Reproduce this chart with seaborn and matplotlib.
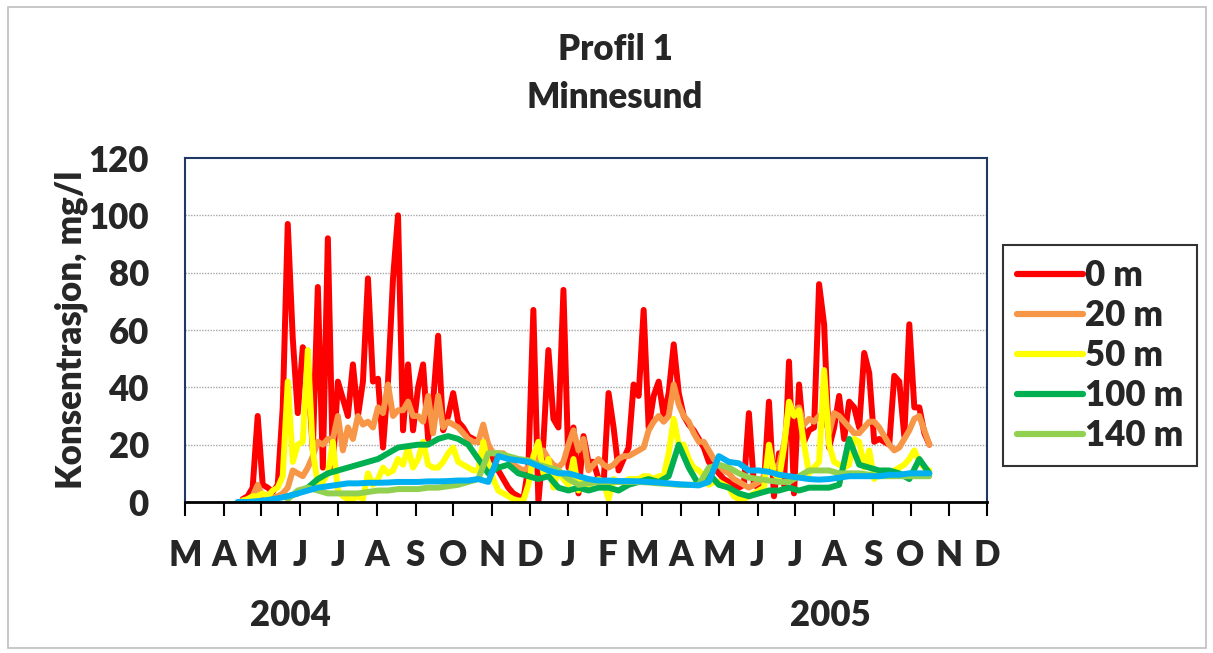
import numpy as np
import pandas as pd
import matplotlib
matplotlib.use("Agg")
import matplotlib.pyplot as plt
from matplotlib.patches import Rectangle
from matplotlib.lines import Line2D
import seaborn as sns

nan = np.nan

# ---------------- data ----------------
dates_fast = pd.date_range("2004-04-08", periods=140, freq="4D")   # 0 m, 20 m, 50 m
dates_slow = pd.date_range("2004-04-12", periods=70, freq="8D")    # 100 m, 140 m, bottom

red_0m = [nan, nan, 1, 2, 5, 30, 6, 5, 3.5, 6,
          33, 97, 57, 31, 54, 46, 18, 75, 12, 92,
          12, 42, 36, 30, 48, 30, 42, 78, 42, 43,
          19, 42, 78, 100, 25, 48, 25, 40, 48, 22,
          35, 58, 25, 30, 38, 28, 26, 23, 22, 21,
          21, 20, 15, 11, 8, 5, 3, 2, 1, 12,
          67, 0, 21, 53, 29, 26, 74, 12, 26, 3,
          23, 14, 14, 8, 6, 38, 26, 11, 15, 19,
          41, 37, 67, 26, 37, 42, 30, 38, 55, 38,
          30, 27, 25, 22, 19, 14, 12, 10, 8, 7,
          6, 5, 6, 31, 6, 5, 6, 35, 2, 17,
          6, 49, 3, 41, 21, 25, 26, 76, 62, 19,
          26, 37, 22, 35, 33, 26, 52, 45, 21, 22,
          21, 20, 44, 42, 23, 62, 33, 33, 24, 20]

orange_20m = [nan, nan, 0.5, 1, 2, 6, 2, 1.5, 1.5, 2,
              3, 5, 11, 10, 9, 12, 16, 21, 20, 22,
              22, 30, 18, 26, 22, 30, 27, 28, 26, 33,
              31, 41, 30, 32, 32, 35, 30, 30, 28, 37,
              24, 37, 26, 28, 27, 26, 24, 22, 21, 21,
              27, 20, 17, 17, 17, 15, 13, 12, 11, 12,
              14, 16, 18, 15, 13, 12, 14, 20, 25, 18,
              22, 11, 13, 15, 13, 12, 13, 15, 16, 16,
              17, 18, 19, 25, 28, 30, 28, 30, 41, 34,
              30, 28, 24, 21, 21, 18, 15, 13, 11, 10,
              8, 7, 6, 5, 6, 7, 9, 12, 12, 13,
              20, 33, 32, 33, 27, 29, 28, 30, 30, 24,
              31, 30, 28, 26, 24, 24, 26, 28, 28, 26,
              23, 20, 18, 19, 22, 25, 29, 30, 25, 20]

yellow_50m = [nan, nan, 0.5, 1, 2, 2, 3, 2, 4, 5,
              9, 42, 14, 20, 21, 53, 18, 6, 7, 10,
              21, 4, 2, 1, 1, 2, 1, 10, 6, 8,
              12, 10, 11, 15, 13, 19, 12, 15, 21, 13,
              12, 12, 14, 17, 19, 14, 13, 12, 11, 11,
              21, 13, 8, 4, 3, 2, 1, 0.5, 0.5, 6,
              16, 21, 10, 15, 5, 11, 8, 6, 15, 4,
              8, 6, 7, 8, 7, 1, 8, 7, 7, 8,
              8, 8, 9, 9, 8, 9, 9, 17, 29, 20,
              20, 15, 12, 11, 9, 6, 7, 7, 6, 5,
              2, 1, 1, 2, 3, 4, 5, 20, 10, 8,
              19, 35, 30, 32, 20, 10, 12, 14, 46, 20,
              14, 13, 12, 13, 22, 21, 12, 18, 8, 10,
              11, 10, 11, 12, 13, 15, 18, 14, 12, 11]

green_100m = [nan, nan, nan, nan, nan, 2, 3, 5, 8, 10,
              11, 12, 13, 14, 15, 17, 19, 19.5, 20, 20,
              22, 23, 22, 20, 15, 10, 12, 13, 10, 9,
              8, 9, 5, 4, 5, 4, 5, 5, 4, 6,
              7, 8, 7, 9, 20, 12, 6, 10, 6, 5,
              3, 2, 3, 4, 4, 5, 4, 5, 5, 5,
              6, 22, 13, 12, 11, 11, 10, 8, 15, 10]

lgreen_140m = [nan, nan, nan, nan, nan, 1, 4, 5, 4, 3,
               3, 3, 3, 3.5, 4, 4, 4.5, 4.5, 4.5, 5,
               5, 5.5, 6, 7, 8, 17, 17, 16, 15, 14.5,
               13, 12, 11, 8, 6, 6.5, 7, 7, 7, 7,
               7, 6.8, 6.5, 6.3, 6, 6, 6, 12, 13, 12,
               10, 8.5, 8, 7.5, 7, 7, 9, 11, 11, 11,
               10, 10, 10, 9.5, 9, 9, 9, 9, 9, 9]

blue_bottom = [0, 0, 0.3, 0.7, 1.3, 2, 3, 4, 5, 5.5,
               6, 6.5, 6.5, 6.7, 6.7, 6.8, 7, 7, 7, 7.2,
               7.2, 7.3, 7.5, 7.5, 8, 7, 16, 15, 14.5, 14,
               12.5, 11, 10, 10, 9, 8, 7.5, 7.5, 7.3, 7.3,
               7.2, 7, 6.8, 6.5, 6.2, 6, 5.8, 7, 16, 14,
               13.5, 11, 11, 10.5, 9.5, 9, 8.5, 8, 7.8, 8,
               8.5, 9, 9, 9, 9, 9.5, 9.5, 10, 10, 10]

series_names = ["0 m", "20 m", "50 m", "100 m", "140 m", "bunn"]
month_labels = list("MAMJJASONDJFMAMJJASOND")
year_labels = ["2004", "2005"]
y_ticks = [0, 20, 40, 60, 80, 100, 120]

frames = []
for name, d, v in [("0 m", dates_fast, red_0m), ("20 m", dates_fast, orange_20m),
                   ("50 m", dates_fast, yellow_50m), ("100 m", dates_slow, green_100m),
                   ("140 m", dates_slow, lgreen_140m), ("bunn", dates_slow, blue_bottom)]:
    f = pd.DataFrame({"date": d, "value": v, "serie": name}).dropna()
    frames.append(f)
df = pd.concat(frames, ignore_index=True)

palette = {"0 m": "#FF0000", "20 m": "#F79646", "50 m": "#FFFF00",
           "100 m": "#00B050", "140 m": "#92D050", "bunn": "#00B0F0"}

# ---------------- style ----------------
sns.set_theme(style="white")
plt.rcParams["font.family"] = ["Lato", "DejaVu Sans"]
W = "heavy"
FS = 25

fig = plt.figure(figsize=(12.13, 6.53), dpi=100)
fig.patch.set_facecolor("white")
ax = fig.add_axes([185/1213, 1-502/653, (987-185)/1213, (502-158)/653])

for name in series_names:
    sub = df[df["serie"] == name]
    sns.lineplot(data=sub, x="date", y="value", color=palette[name], linewidth=4.3,
                 ax=ax, legend=False, estimator=None, sort=False,
                 solid_capstyle="round", solid_joinstyle="round")

ax.set_xlim(pd.Timestamp("2004-03-01"), pd.Timestamp("2005-12-01"))
ax.set_ylim(0, 120)
ax.set_xlabel("")
ax.set_ylabel("Konsentrasjon, mg/l", fontsize=FS, fontweight=W, labelpad=0)

month_ticks = pd.date_range("2004-03-01", periods=22, freq="MS")
ax.set_xticks(month_ticks)
ax.set_xticklabels(month_labels, fontsize=FS, fontweight=W)
ax.tick_params(axis="x", direction="out", length=10, width=1.5, color="black", pad=17, bottom=True)
ax.set_yticks(y_ticks)
ax.set_yticklabels([str(t) for t in y_ticks], fontsize=FS, fontweight=W)
ax.tick_params(axis="y", length=0, pad=26)

ax.grid(False)
for yv in y_ticks[1:-1]:
    ax.axhline(yv, color="#A6A6A6", linestyle=(0, (1, 1)), linewidth=1.0, zorder=0)

for s in ["left", "top", "right"]:
    ax.spines[s].set_color("#1F3864")
    ax.spines[s].set_linewidth(1.5)
ax.spines["bottom"].set_color("black")
ax.spines["bottom"].set_linewidth(2)

fig.text(615/1213, 1-50/653, "Profil 1", ha="center", va="center", fontsize=FS, fontweight=W)
fig.text(615/1213, 1-97/653, "Minnesund", ha="center", va="center", fontsize=FS, fontweight=W)
fig.text(290/1213, 1-615/653, year_labels[0], ha="center", va="center", fontsize=FS, fontweight=W)
fig.text(830/1213, 1-615/653, year_labels[1], ha="center", va="center", fontsize=FS, fontweight=W)

handles = [Line2D([0], [0], color=palette[n], lw=4.5, solid_capstyle="round") for n in series_names[:5]]
leg = fig.legend(handles, series_names[:5], loc="upper left",
                 bbox_to_anchor=(1003/1213, 1-245/653), bbox_transform=fig.transFigure,
                 frameon=True, fancybox=False, edgecolor="black",
                 handlelength=1.9, handletextpad=0.05, labelspacing=0.2, borderpad=0.4,
                 borderaxespad=0, prop={"weight": W, "size": FS})
leg.get_frame().set_linewidth(1.5)

fig.patches.append(Rectangle((8/1213, 5/653), 1198/1213, 641/653, transform=fig.transFigure,
                             fill=False, edgecolor="#BFBFBF", linewidth=1.2))

fig.savefig("out.png", dpi=100)
